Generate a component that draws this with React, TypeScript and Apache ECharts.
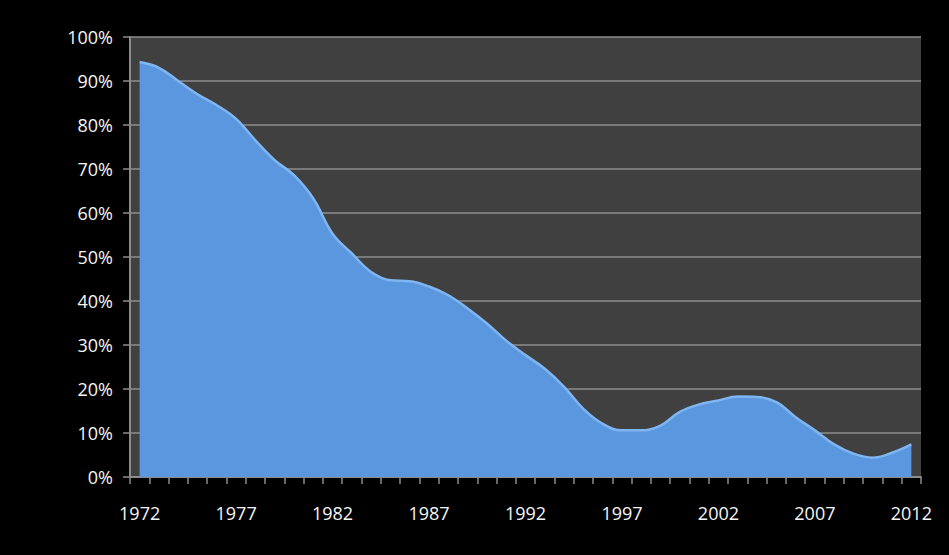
import React, { useEffect, useRef } from "react";
import * as echarts from "echarts";

const years: string[] = [];
for (let y = 1972; y <= 2012; y++) years.push(String(y));

const shareValues: number[] = [
  94.3, 93.0, 90.0, 87.0, 84.5, 81.4, 76.5, 72.0, 68.6, 63.3,
  55.3, 50.8, 46.6, 44.7, 44.5, 43.3, 41.3, 38.3, 34.9, 31.0,
  27.7, 24.6, 20.5, 15.5, 12.1, 10.6, 10.6, 11.7, 14.8, 16.5,
  17.4, 18.3, 18.2, 17.0, 13.6, 10.6, 7.4, 5.3, 4.4, 5.5, 7.4,
];

const yTicks = { min: 0, max: 100, interval: 10 };

export default function App() {
  const ref = useRef<HTMLDivElement>(null);
  useEffect(() => {
    document.body.style.margin = "0";
    document.body.style.background = "#000";
    const chart = echarts.init(ref.current!, null, { renderer: "svg" });
    chart.setOption({
      animation: false,
      backgroundColor: "#000000",
      textStyle: { fontFamily: "Open Sans" },
      grid: {
        left: 130,
        right: 28,
        top: 37,
        bottom: 78,
        show: true,
        backgroundColor: "#404040",
        borderWidth: 0,
      },
      xAxis: {
        type: "category",
        data: years,
        boundaryGap: true,
        axisLine: { show: true, lineStyle: { color: "#8c8c8c", width: 2 } },
        axisTick: { show: true, interval: 0, length: 7, lineStyle: { color: "#8c8c8c", width: 1.5 } },
        axisLabel: {
          interval: 4,
          color: "#f5f5f5",
          fontSize: 18,
          margin: 27,
          fontFamily: "Open Sans",
        },
        splitLine: { show: false },
      },
      yAxis: {
        type: "value",
        min: yTicks.min,
        max: yTicks.max,
        interval: yTicks.interval,
        axisLine: { show: true, lineStyle: { color: "#8c8c8c", width: 2 } },
        axisTick: { show: true, length: 7, lineStyle: { color: "#8c8c8c", width: 1.5 } },
        axisLabel: {
          formatter: "{value}%",
          color: "#f5f5f5",
          fontSize: 18,
          margin: 17,
          fontFamily: "Open Sans",
        },
        splitLine: { show: true, lineStyle: { color: "#8c8c8c", width: 1.5 } },
      },
      series: [
        {
          type: "line",
          data: shareValues,
          smooth: 0.4,
          symbol: "none",
          lineStyle: { color: "#7fb6f2", width: 2.5 },
          areaStyle: { color: "#5b97df", opacity: 1 },
        },
      ],
    });
    return () => chart.dispose();
  }, []);
  return <div ref={ref} style={{ width: 949, height: 555 }} />;
}
